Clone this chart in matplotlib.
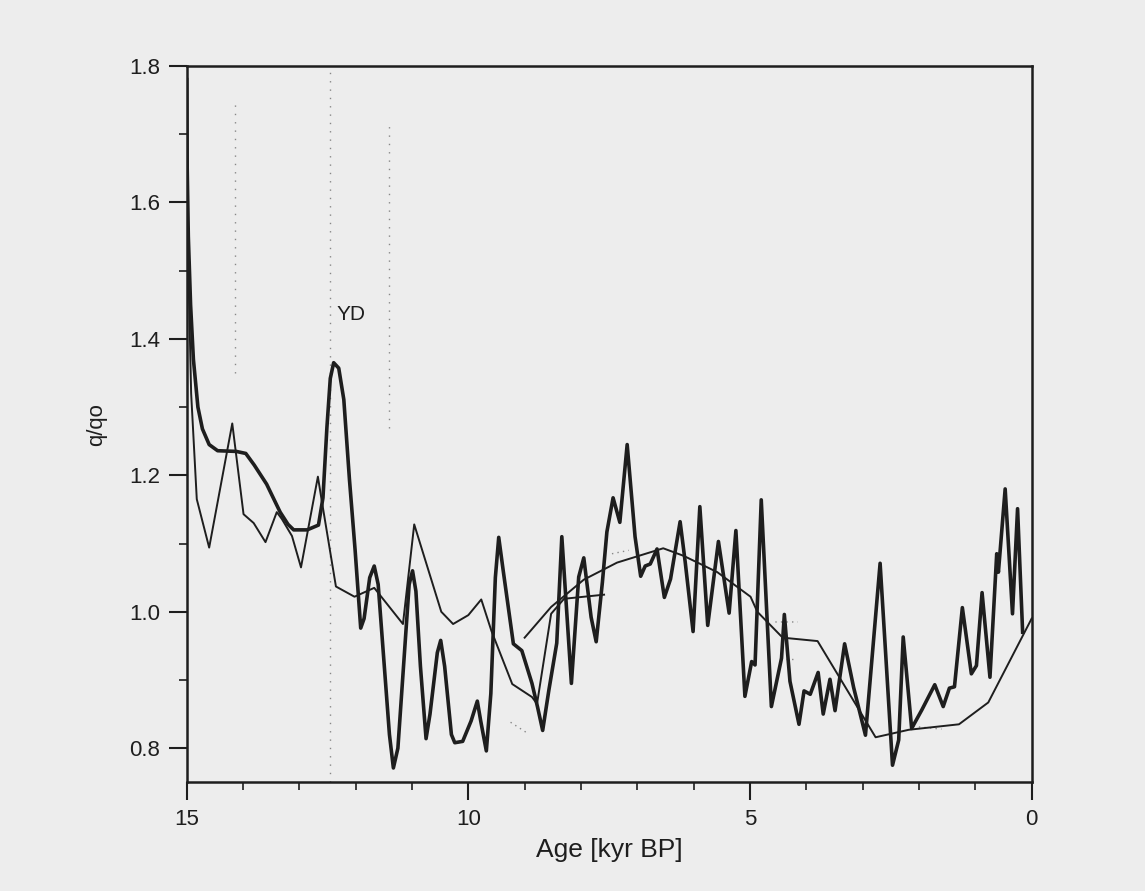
import numpy as np
import matplotlib.pyplot as plt

plt.rcParams['font.family'] = ['Liberation Sans Narrow', 'Liberation Sans', 'DejaVu Sans']

# thick curve (high-resolution record)
age_thick = [15.0, 14.99, 14.97, 14.93, 14.88, 14.80, 14.72, 14.60, 14.45, 14.12, 13.95,
             13.80, 13.58, 13.34, 13.20, 13.10, 12.86, 12.66, 12.58, 12.51, 12.45, 12.39,
             12.30, 12.21, 12.11, 12.01, 11.91, 11.85, 11.75, 11.67, 11.60, 11.50, 11.40,
             11.33, 11.25, 11.15, 11.05, 10.99, 10.93, 10.85, 10.75, 10.68, 10.55, 10.49,
             10.42, 10.30, 10.24, 10.10, 9.95, 9.84, 9.78, 9.68, 9.60, 9.52, 9.46, 9.38,
             9.20, 9.05, 8.87, 8.77, 8.68, 8.57,
             8.43, 8.34, 8.17, 8.04, 7.95, 7.82, 7.73, 7.62, 7.54, 7.43, 7.31, 7.18,
             7.04, 6.94, 6.86, 6.77, 6.65, 6.52, 6.41, 6.24, 6.15, 6.01, 5.89, 5.75,
             5.56, 5.37, 5.25, 5.09, 4.97, 4.91, 4.80, 4.62, 4.44, 4.39, 4.29, 4.13,
             4.04, 3.93, 3.79, 3.70, 3.58, 3.49, 3.32, 3.16, 2.95, 2.69, 2.47, 2.36,
             2.28, 2.13, 1.95, 1.72, 1.57, 1.46, 1.37, 1.23, 1.07, 0.98, 0.88, 0.74,
             0.62, 0.59, 0.47, 0.34, 0.25, 0.16]
q_thick = [1.78, 1.65, 1.55, 1.45, 1.37, 1.30, 1.268, 1.245, 1.236, 1.235, 1.232,
           1.215, 1.187, 1.146, 1.128, 1.120, 1.120, 1.127, 1.167, 1.270, 1.342, 1.365,
           1.357, 1.311, 1.194, 1.091, 0.976, 0.990, 1.050, 1.067, 1.040, 0.930, 0.820,
           0.771, 0.800, 0.920, 1.040, 1.060, 1.030, 0.920, 0.814, 0.850, 0.940, 0.958,
           0.920, 0.820, 0.808, 0.810, 0.840, 0.869, 0.840, 0.796, 0.880, 1.050, 1.109, 1.060,
           0.953, 0.943, 0.895, 0.860, 0.826, 0.885,
           0.954, 1.110, 0.895, 1.051, 1.079, 0.992, 0.956, 1.043, 1.117, 1.167, 1.131, 1.245,
           1.110, 1.052, 1.067, 1.070, 1.092, 1.021, 1.048, 1.132, 1.073, 0.971, 1.154, 0.980,
           1.103, 0.998, 1.119, 0.876, 0.927, 0.922, 1.164, 0.861, 0.932, 0.996, 0.898, 0.835,
           0.884, 0.879, 0.911, 0.850, 0.901, 0.855, 0.953, 0.889, 0.819, 1.071, 0.775, 0.812,
           0.963, 0.829, 0.856, 0.893, 0.861, 0.888, 0.890, 1.006, 0.909, 0.921, 1.028, 0.904,
           1.085, 1.058, 1.180, 0.997, 1.151, 0.970]

# thin jagged curve
age_thin = [14.99, 14.92, 14.82, 14.60, 14.19, 13.99, 13.81, 13.60, 13.40, 13.31, 13.13,
            12.97, 12.67, 12.61, 12.35, 12.02, 11.67, 11.16, 10.96, 10.48, 10.27, 10.0,
            9.77, 9.59, 9.22, 8.87, 8.78, 8.53, 8.30, 7.59]
q_thin = [1.58, 1.32, 1.165, 1.094, 1.276, 1.143, 1.130, 1.102, 1.146, 1.136, 1.111,
          1.065, 1.198, 1.167, 1.037, 1.022, 1.035, 0.982, 1.128, 1.000, 0.982, 0.995,
          1.018, 0.972, 0.894, 0.875, 0.865, 0.997, 1.019, 1.025]

# smooth curve
age_smooth = [9.00, 8.53, 7.95, 7.36, 6.54, 6.18, 5.58, 4.99, 4.87, 4.42, 3.80,
              2.77, 2.18, 1.29, 0.77, 0.0]
q_smooth = [0.962, 1.007, 1.047, 1.072, 1.093, 1.082, 1.058, 1.022, 1.000, 0.962, 0.957,
            0.816, 0.827, 0.835, 0.867, 0.99]

# faint dotted marks
age_dots = [9.25, 8.95, np.nan, 7.45, 7.15, np.nan, 4.55, 4.15, np.nan, 4.45, 4.20,
            np.nan, 2.10, 1.60]
q_dots = [0.838, 0.822, np.nan, 1.085, 1.09, np.nan, 0.985, 0.985, np.nan, 0.93, 0.93,
          np.nan, 0.832, 0.828]
vlines_age = [14.15, 12.45, 11.4]
vlines_top = [1.75, 1.80, 1.72]
vlines_bot = [1.35, 0.75, 1.27]

bg = '#ededed'
ink = '#1e1e1e'

fig = plt.figure(figsize=(11.45, 8.91), dpi=100, facecolor=bg)
ax = fig.add_axes([0.163, 0.122, 0.738, 0.804], facecolor=bg)

for a, t, b in zip(vlines_age, vlines_top, vlines_bot):
    ax.plot([a, a], [b, t], color='#888888', lw=1.0, ls=(0, (1, 5)))
ax.plot(age_dots, q_dots, color='#888888', lw=1.0, ls=(0, (1, 3)))

ax.plot(age_smooth, q_smooth, color=ink, lw=1.4, solid_joinstyle='round')
ax.plot(age_thin, q_thin, color=ink, lw=1.4, solid_joinstyle='round')
ax.plot(age_thick, q_thick, color=ink, lw=2.6, solid_joinstyle='round')

ax.text(12.09, 1.436, 'YD', fontsize=15, color=ink, ha='center', va='center')

ax.set_xlim(15, 0)
ax.set_ylim(0.75, 1.8)
ax.set_xticks([15, 10, 5, 0])
ax.set_xticks(np.arange(0, 16, 1), minor=True)
ax.set_yticks([0.8, 1.0, 1.2, 1.4, 1.6, 1.8])
ax.set_yticklabels(['0.8', '1.0', '1.2', '1.4', '1.6', '1.8'])
ax.set_yticks(np.arange(0.8, 1.8, 0.1), minor=True)
ax.tick_params(which='major', direction='out', length=13, width=1.5, colors=ink,
               labelsize=16, pad=6)
ax.tick_params(which='minor', direction='out', length=6, width=1.2, colors=ink)
for s in ax.spines.values():
    s.set_linewidth(1.8)
    s.set_color(ink)

ax.set_xlabel('Age [kyr BP]', fontsize=19, color=ink, labelpad=6)
ax.set_ylabel('q/qo', fontsize=16, color=ink, labelpad=16)

fig.savefig('out.png', dpi=100, facecolor=bg)
